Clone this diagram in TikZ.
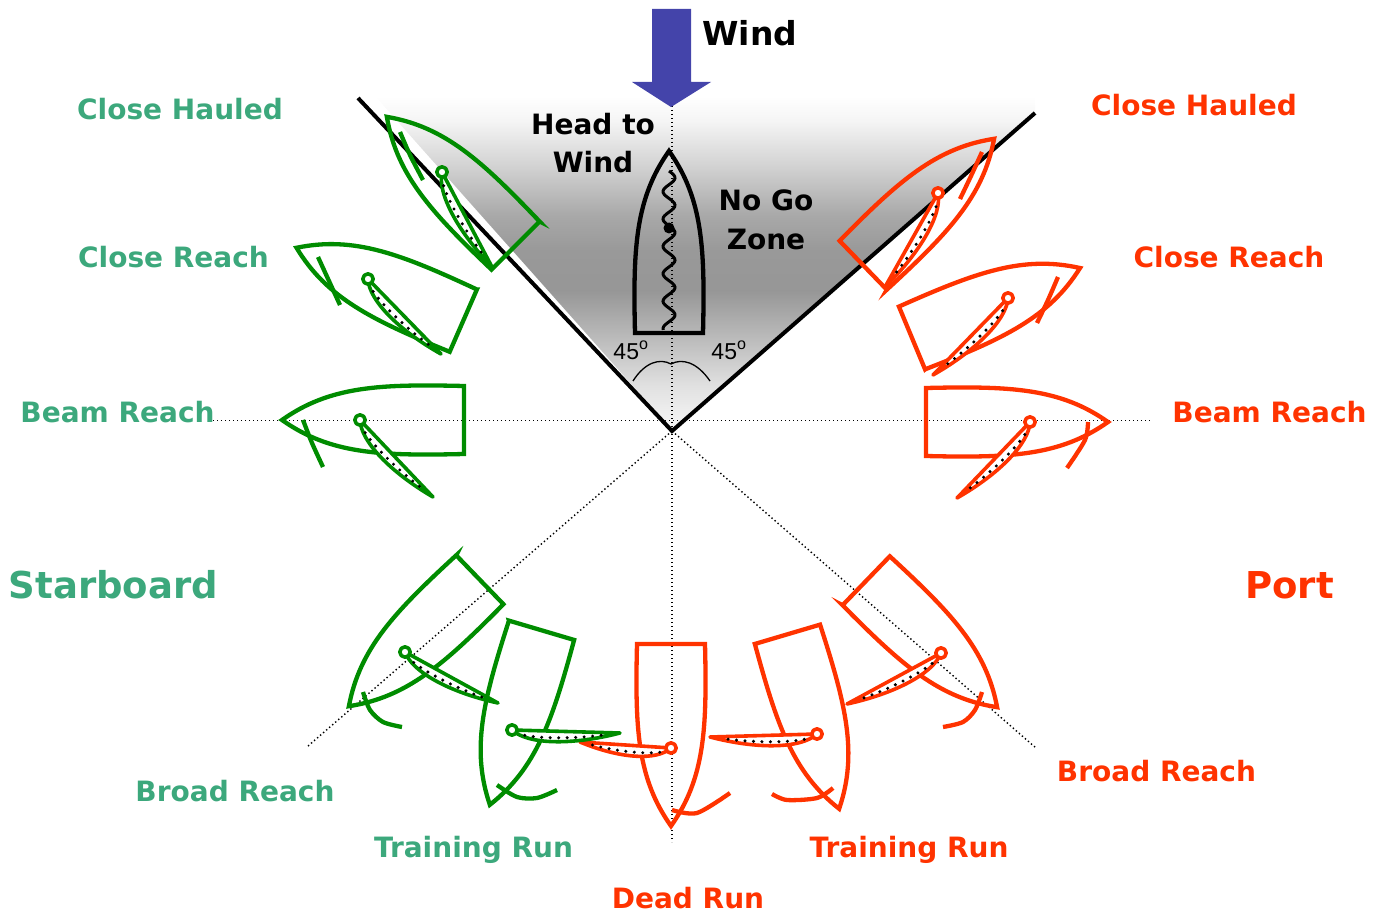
\documentclass[tikz,border=0pt]{standalone}
\usepackage{fontspec}
\setmainfont{DejaVu Sans}
\newfontfamily\arialf{Liberation Sans}
\usetikzlibrary{calc}
\definecolor{grnT}{RGB}{60,168,124}
\definecolor{redT}{RGB}{255,51,0}
\definecolor{grnB}{RGB}{0,140,0}
\definecolor{redB}{RGB}{255,51,0}
\definecolor{windB}{RGB}{68,68,170}
\pgfdeclareverticalshading{nogo}{100bp}{color(0bp)=(white!97!black); color(25bp)=(white!97!black); color(31.7bp)=(white!88!black); color(38.4bp)=(white!74!black); color(45.9bp)=(white!59!black); color(51.9bp)=(white!60!black); color(57.1bp)=(white!66!black); color(64.3bp)=(white!82!black); color(71.3bp)=(white!96!black); color(75bp)=(white); color(100bp)=(white)}
\tikzset{
  hullline/.style={line width=4.3pt},
  sailline/.style={line width=3.6pt, line join=round},
  saildots/.style={line width=3.4pt, line cap=round, dash pattern=on 0pt off 8.5pt, black},
  jibline/.style={line width=4.3pt},
  axisline/.style={line width=1.4pt, dash pattern=on 1.4pt off 2.6pt},
  zoneline/.style={line width=4pt},
  lbl/.style={font=\bfseries\fontsize{28}{32}\selectfont, inner sep=0pt, anchor=base},
  gl/.style={lbl, text=grnT},
  rl/.style={lbl, text=redT},
  big/.style={font=\bfseries\fontsize{37}{40}\selectfont},
  deg/.style={font=\arialf\fontsize{23}{26}\selectfont, inner sep=0pt, anchor=base},
  hull/.pic={\draw[hullline] (-34,-104) -- (34,-104) .. controls (36,-20) and (34,30) .. (0,78) .. controls (-34,30) and (-36,-20) .. cycle;}
}
\newcommand\sailp[3]{%
  \filldraw[sailline, fill=white] (#1) .. controls ($(#1)!0.15!(#2)!14pt!#3:(#2)$) and ($(#1)!0.55!(#2)!14pt!#3:(#2)$) .. (#2) -- cycle;
  \draw[saildots] ($(#1)!0.12!(#2)!5pt!#3:(#2)$) .. controls ($(#1)!0.3!(#2)!8pt!#3:(#2)$) and ($(#1)!0.6!(#2)!7pt!#3:(#2)$) .. ($(#1)!0.9!(#2)!1.5pt!#3:(#2)$);
  \draw[sailline, fill=white] (#1) circle[radius=5.2];
}
\begin{document}
\begin{tikzpicture}[x=1pt, y=-1pt]
\useasboundingbox (0,0) rectangle (1382,912);
% no go zone shading
\shade[shading=nogo] (672,430) -- (375,96) -- (1035,96) -- (1035,113) -- cycle;
% axes
\coordinate (ctr) at (672,431);
\draw[axisline] (672,106) -- (672,842);
\draw[axisline] (213,420.5) -- (1150,420.5);
\draw[axisline] (ctr) -- (308,746);
\draw[axisline] (ctr) -- (1036,748);
% zone lines
\draw[zoneline] (358,98) -- (ctr) -- (1035,113);
% angle arc
\draw[line width=1.3pt] (633,381) .. controls (645,362) and (660,358) .. (671,364) .. controls (682,358) and (697,362) .. (710,381);
\node[deg] (a1) at (631,359) {45\textsuperscript{o}};
\node[deg] (a2) at (729,359) {45\textsuperscript{o}};
% head to wind boat
\pic[color=black, rotate=180] at (669,229) {hull};
\draw[line width=3pt] plot[smooth, domain=0:1, samples=90] ({669+6*sin(\x*5.8*360)}, {171+\x*159});
\fill (669,228) circle[radius=5.5];
% wind arrow
\fill[windB] (652,9) -- (691,9) -- (691,82) -- (711,82) -- (671,107) -- (632,82) -- (652,82) -- cycle;
% ---------- green (starboard) boats
\begin{scope}[color=grnB]
\pic[rotate=-135] at (442,172) {hull};
\sailp{442,172}{492,267}{-90}
\draw[jibline] plot[smooth] coordinates {(400,132) (410,155) (423,180)};
\pic[rotate=-113.6] at (368,279) {hull};
\sailp{368,279}{441,354}{-90}
\draw[jibline] plot[smooth] coordinates {(318,257) (329,281) (340,305)};
\pic[rotate=-90] at (360,420) {hull};
\sailp{360,420}{433,497}{-90}
\draw[jibline] plot[smooth] coordinates {(303,420) (312,443) (323,467)};
\pic[rotate=-46] at (405,652) {hull};
\sailp{405,652}{498,703}{-90}
\draw[jibline] plot[smooth] coordinates {(363,692) (370,710) (383,722) (402,727)};
\pic[rotate=-16.5] at (512,730) {hull};
\draw[jibline] plot[smooth] coordinates {(497,785) (517,797) (537,798) (557,790)};
\end{scope}
% ---------- red (port) boats
\begin{scope}[color=redB]
\pic[rotate=0] at (671,748) {hull};
\sailp{671,748}{580,742}{90}
\draw[jibline] plot[smooth] coordinates {(672,810) (697,813) (730,793)};
\pic[rotate=16.5] at (817,734) {hull};
\sailp{817,734}{710,737}{90}
\draw[jibline] plot[smooth] coordinates {(772,794) (787,800) (817,798) (833,788)};
\pic[rotate=46] at (941,653) {hull};
\sailp{941,653}{847,704}{90}
\draw[jibline] plot[smooth] coordinates {(982,692) (975,710) (963,722) (943,727)};
\pic[rotate=90] at (1030,422) {hull};
\sailp{1030,422}{957,498}{90}
\draw[jibline] plot[smooth] coordinates {(1088,422) (1085,440) (1067,468)};
\pic[rotate=112.6] at (1008,298) {hull};
\sailp{1008,298}{933,375}{90}
\draw[jibline] plot[smooth] coordinates {(1058,277) (1048,300) (1037,323)};
\pic[rotate=134] at (938,193) {hull};
\sailp{938,193}{885,287}{90}
\draw[jibline] plot[smooth] coordinates {(982,152) (971,176) (960,199)};
\end{scope}
\begin{scope}[color=grnB]
\sailp{512,730}{620,733}{-90}
\end{scope}
% ---------- texts
\node[lbl, font=\bfseries\fontsize{33}{36}\selectfont] (wind) at (750,46) {Wind};
\node[lbl] (htw1) at (593,135) {Head to};
\node[lbl] (htw2) at (593,173) {Wind};
\node[lbl] (ngz1) at (766,211) {No Go};
\node[lbl] (ngz2) at (766,250) {Zone};
\node[gl] (gch) at (180,120) {Close Hauled};
\node[gl] (gcr) at (173.5,268) {Close Reach};
\node[gl] (gbr) at (117.5,422) {Beam Reach};
\node[gl, big] (gsb) at (113.5,598) {Starboard};
\node[gl] (gbrr) at (235,801) {Broad Reach};
\node[gl] (gtr) at (473.5,857) {Training Run};
\node[rl] (rch) at (1194,116) {Close Hauled};
\node[rl] (rcr) at (1229,268) {Close Reach};
\node[rl] (rbr) at (1269.5,422) {Beam Reach};
\node[rl, big] (rpt) at (1289.5,598) {Port};
\node[rl] (rbrr) at (1156.5,781) {Broad Reach};
\node[rl] (rtr) at (909,857) {Training Run};
\node[rl] (rdr) at (688,908) {Dead Run};
\end{tikzpicture}
\end{document}
